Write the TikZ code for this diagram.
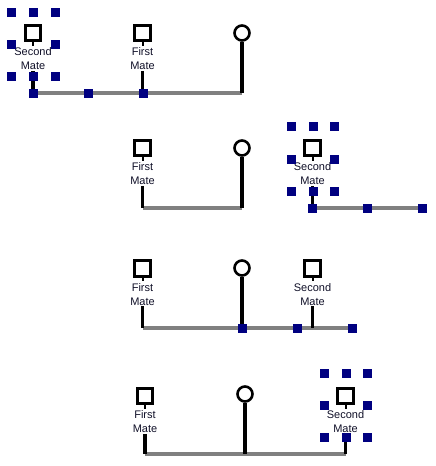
\documentclass[tikz,border=0pt]{standalone}
\usepackage{fontspec}
\setmainfont{Liberation Sans}
\usepackage{tikz}
\usetikzlibrary{backgrounds}
\pgfdeclarelayer{background}
\pgfsetlayers{background,main}
\definecolor{HandleBlue}{RGB}{0,0,128}
\definecolor{LineGray}{RGB}{128,128,128}
\definecolor{TextInk}{RGB}{16,16,40}

\begin{document}
\begin{tikzpicture}[x=1pt, y=-1pt]

    % Picture size
    \useasboundingbox (0,0) rectangle (436,466);

    % Family members
    \tikzset{nM/.style={draw, shape = rectangle, line width = 3pt, inner sep = 0pt, minimum size = 15.5pt}}
    \tikzset{nW/.style={draw, shape = circle, line width = 2.6pt, inner sep = 0pt, minimum size = 15pt}}
    \tikzset{lM/.style={align = center, inner sep = 1pt, anchor = north, font = \fontsize{11}{14}\selectfont, text = TextInk}}

    % Selection handles
    \tikzset{hS/.style={fill = HandleBlue, shape = rectangle, inner sep = 0pt, minimum size = 9pt}}

    % Branches
    \tikzset{bM/.style={draw = black, line width = 3.2pt}}
    \tikzset{bL/.style={draw = LineGray, line width = 3.4pt}}
    \tikzset{bT/.style={draw = black, line width = 2pt}}

    % Panel 1
    \node (s1) [nM] at ( 33, 33) {};
    	\node (s1t) [lM] at ( 33, 46.5) {Second\\Mate};
    \node (f1) [nM] at (142.5, 33) {};
    	\node (f1t) [lM] at (142.5, 46.5) {First\\Mate};
    \node (w1) [nW] at (242, 33) {};
    \coordinate (s1j) at ( 33, 93);
    \coordinate (f1j) at (142.5, 93);
    \coordinate (w1j) at (242, 93);

    % Panel 2
    \node (f2) [nM] at (142.5, 148) {};
    	\node (f2t) [lM] at (142.5, 161.5) {First\\Mate};
    \node (w2) [nW] at (242, 148) {};
    \node (s2) [nM] at (312.5, 148) {};
    	\node (s2t) [lM] at (312.5, 161.5) {Second\\Mate};
    \coordinate (f2j) at (142.5, 208);
    \coordinate (w2j) at (242, 208);
    \coordinate (s2j) at (312.5, 208);
    \coordinate (s2e) at (422, 208);

    % Panel 3
    \node (f3) [nM] at (142.5, 268.5) {};
    	\node (f3t) [lM] at (142.5, 282) {First\\Mate};
    \node (w3) [nW] at (242, 268) {};
    \node (s3) [nM] at (312.5, 268.5) {};
    	\node (s3t) [lM] at (312.5, 282) {Second\\Mate};
    \coordinate (f3j) at (142.5, 328);
    \coordinate (w3j) at (242, 328);
    \coordinate (s3j) at (312.5, 328);
    \coordinate (s3e) at (352, 328);

    % Panel 4
    \node (f4) [nM] at (145, 396) {};
    	\node (f4t) [lM] at (145, 409.5) {First\\Mate};
    \node (w4) [nW] at (245, 394) {};
    \node (s4) [nM] at (345.5, 396) {};
    	\node (s4t) [lM] at (345.5, 409.5) {Second\\Mate};
    \coordinate (f4j) at (145, 454);
    \coordinate (w4j) at (245, 454);
    \coordinate (s4j) at (345.5, 454);

    % Background lines
    \begin{pgfonlayer}{background}

    	% Panel 1
    	\path[bL] (s1j) -- (w1j);
    		\path[bM] (s1t) -- (s1j);
    		\path[bM] (f1t) -- (f1j);
    		\path[bM] (w1) -- (w1j);

    	% Panel 2
    	\path[bL] (f2j) -- (w2j);
    	\path[bL] (s2j) -- (s2e);
    		\path[bM] (f2t) -- (f2j);
    		\path[bM] (w2) -- (w2j);
    		\path[bM] (s2t) -- (s2j);

    	% Panel 3
    	\path[bL] (f3j) -- (s3e);
    		\path[bM] (f3t) -- (f3j);
    		\path[bM] (w3) -- (w3j);
    		\path[bM] (s3t) -- (s3j);

    	% Panel 4
    	\path[bL] (f4j) -- (s4j);
    		\path[bM] (f4t) -- (f4j);
    		\path[bM] (w4) -- (w4j);
    		\path[bM] (s4t) -- (s4j);

    	% Stubs under the squares
    	\foreach \m in {s1, f1, f2, s2, f3, s3, f4, s4}
    		\path[bT] (\m.south) -- ++(0, 3.5);

    \end{pgfonlayer}

    % Handles, panel 1
    \foreach \x/\y [count=\k] in {11/12, 33/12, 55/12, 11/44, 55/44, 11/76, 33/76, 55/76, 33/93, 88/93, 143/93}
    	\node (h1\k) [hS] at (\x, \y) {};

    % Handles, panel 2
    \foreach \x/\y [count=\k] in {291/126, 313/126, 334/126, 291/159, 334/159, 291/191, 313/191, 334/191, 312.5/208, 367/208, 422/208}
    	\node (h2\k) [hS] at (\x, \y) {};

    % Handles, panel 3
    \foreach \x/\y [count=\k] in {242/328, 297/328, 352/328}
    	\node (h3\k) [hS] at (\x, \y) {};

    % Handles, panel 4
    \foreach \x/\y [count=\k] in {324/373, 346/373, 367/373, 324/405, 367/405, 324/437, 346/437, 367/437}
    	\node (h4\k) [hS] at (\x, \y) {};

\end{tikzpicture}
\end{document}
